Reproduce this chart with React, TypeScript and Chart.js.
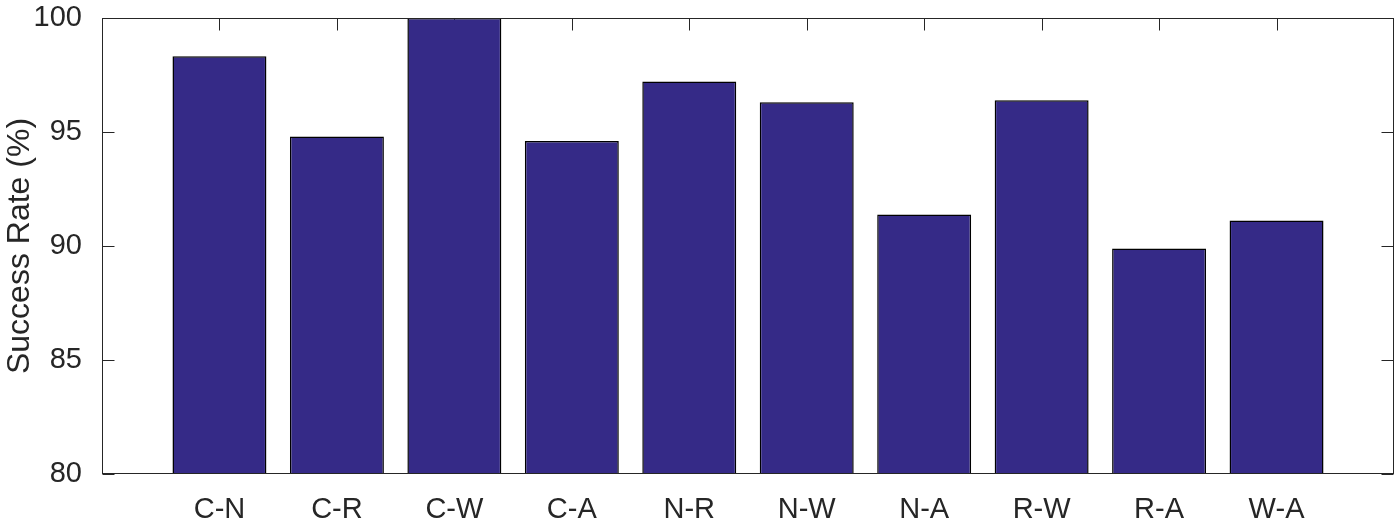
import React, { useEffect, useRef } from "react";
import { Chart, registerables } from "chart.js";

Chart.register(...registerables);

const categories = ["C-N", "C-R", "C-W", "C-A", "N-R", "N-W", "N-A", "R-W", "R-A", "W-A"];
const successRates = [98.32, 94.8, 100, 94.6, 97.22, 96.3, 91.38, 96.39, 89.89, 91.12];
const yTicks = [80, 85, 90, 95, 100];

const AXIS_COLOR = "#262626";
const BAR_COLOR = "#352A87";
const FONT = "'Liberation Sans', Arial, Helvetica, sans-serif";

const boxPlugin = {
  id: "matlabBox",
  beforeDatasetsDraw(chart: any) {
    const { ctx, chartArea, scales } = chart;
    const L = Math.round(chartArea.left) + 0.5;
    const R = Math.round(chartArea.right) - 0.5;
    const T = Math.round(chartArea.top) + 0.5;
    const B = Math.round(chartArea.bottom) - 0.5;
    const tl = 12;
    ctx.save();
    ctx.strokeStyle = AXIS_COLOR;
    ctx.lineWidth = 1;
    ctx.beginPath();
    yTicks.forEach((v) => {
      const y = Math.round(scales.y.getPixelForValue(v)) + 0.5;
      ctx.moveTo(L, y);
      ctx.lineTo(L + tl, y);
      ctx.moveTo(R, y);
      ctx.lineTo(R - tl, y);
    });
    categories.forEach((_, i) => {
      const x = Math.round(scales.x.getPixelForValue(i + 1)) + 0.5;
      ctx.moveTo(x, T);
      ctx.lineTo(x, T + tl);
      ctx.moveTo(x, B);
      ctx.lineTo(x, B - tl);
    });
    ctx.stroke();
    ctx.restore();
  },
  afterDatasetsDraw(chart: any) {
    const { ctx, chartArea } = chart;
    const L = Math.round(chartArea.left) + 0.5;
    const R = Math.round(chartArea.right) - 0.5;
    const T = Math.round(chartArea.top) + 0.5;
    const B = Math.round(chartArea.bottom) - 0.5;
    ctx.save();
    ctx.strokeStyle = AXIS_COLOR;
    ctx.lineWidth = 1;
    ctx.strokeRect(L, T, R - L, B - T);
    ctx.restore();
  },
};

export default function App() {
  const canvasRef = useRef<HTMLCanvasElement | null>(null);

  useEffect(() => {
    document.body.style.margin = "0";
    const canvas = canvasRef.current;
    if (!canvas) return;
    const chart = new Chart(canvas, {
      type: "bar",
      data: {
        datasets: [
          {
            data: successRates.map((v, i) => ({ x: i + 1, y: v })),
            backgroundColor: BAR_COLOR,
            borderColor: "#000000",
            borderWidth: 1.5,
            barPercentage: 0.8,
            categoryPercentage: 1,
          },
        ],
      },
      options: {
        animation: false,
        responsive: false,
        maintainAspectRatio: false,
        layout: { padding: { top: 18, right: 0, left: 0, bottom: 0 } },
        plugins: { legend: { display: false }, tooltip: { enabled: false } },
        scales: {
          x: {
            type: "linear",
            offset: false,
            min: 0,
            max: 11,
            grid: { display: false },
            border: { display: false },
            ticks: {
              stepSize: 1,
              autoSkip: false,
              maxRotation: 0,
              padding: 11,
              color: AXIS_COLOR,
              font: { family: FONT, size: 29 },
              callback: (v: any) => {
                const i = Math.round(Number(v)) - 1;
                return i >= 0 && i < categories.length ? categories[i] : "";
              },
            },
            afterFit: (scale: any) => {
              scale.height = 44;
              scale.paddingLeft = 0;
              scale.paddingRight = 0;
            },
          },
          y: {
            min: 80,
            max: 100,
            grid: { display: false },
            border: { display: false },
            ticks: {
              stepSize: 5,
              padding: 12,
              color: AXIS_COLOR,
              font: { family: FONT, size: 29 },
            },
            title: {
              display: true,
              text: "Success Rate (%)",
              color: AXIS_COLOR,
              font: { family: FONT, size: 32 },
              padding: { top: 1, bottom: 4 },
            },
            afterFit: (scale: any) => {
              scale.width = 102;
              scale.paddingTop = 0;
              scale.paddingBottom = 0;
            },
          },
        },
      },
      plugins: [boxPlugin],
    });
    return () => chart.destroy();
  }, []);

  return (
    <div style={{ position: "fixed", left: 0, top: 0, width: 1394, height: 518, background: "#fff" }}>
      <canvas ref={canvasRef} width={1394} height={518} style={{ width: 1394, height: 518 }} />
    </div>
  );
}
